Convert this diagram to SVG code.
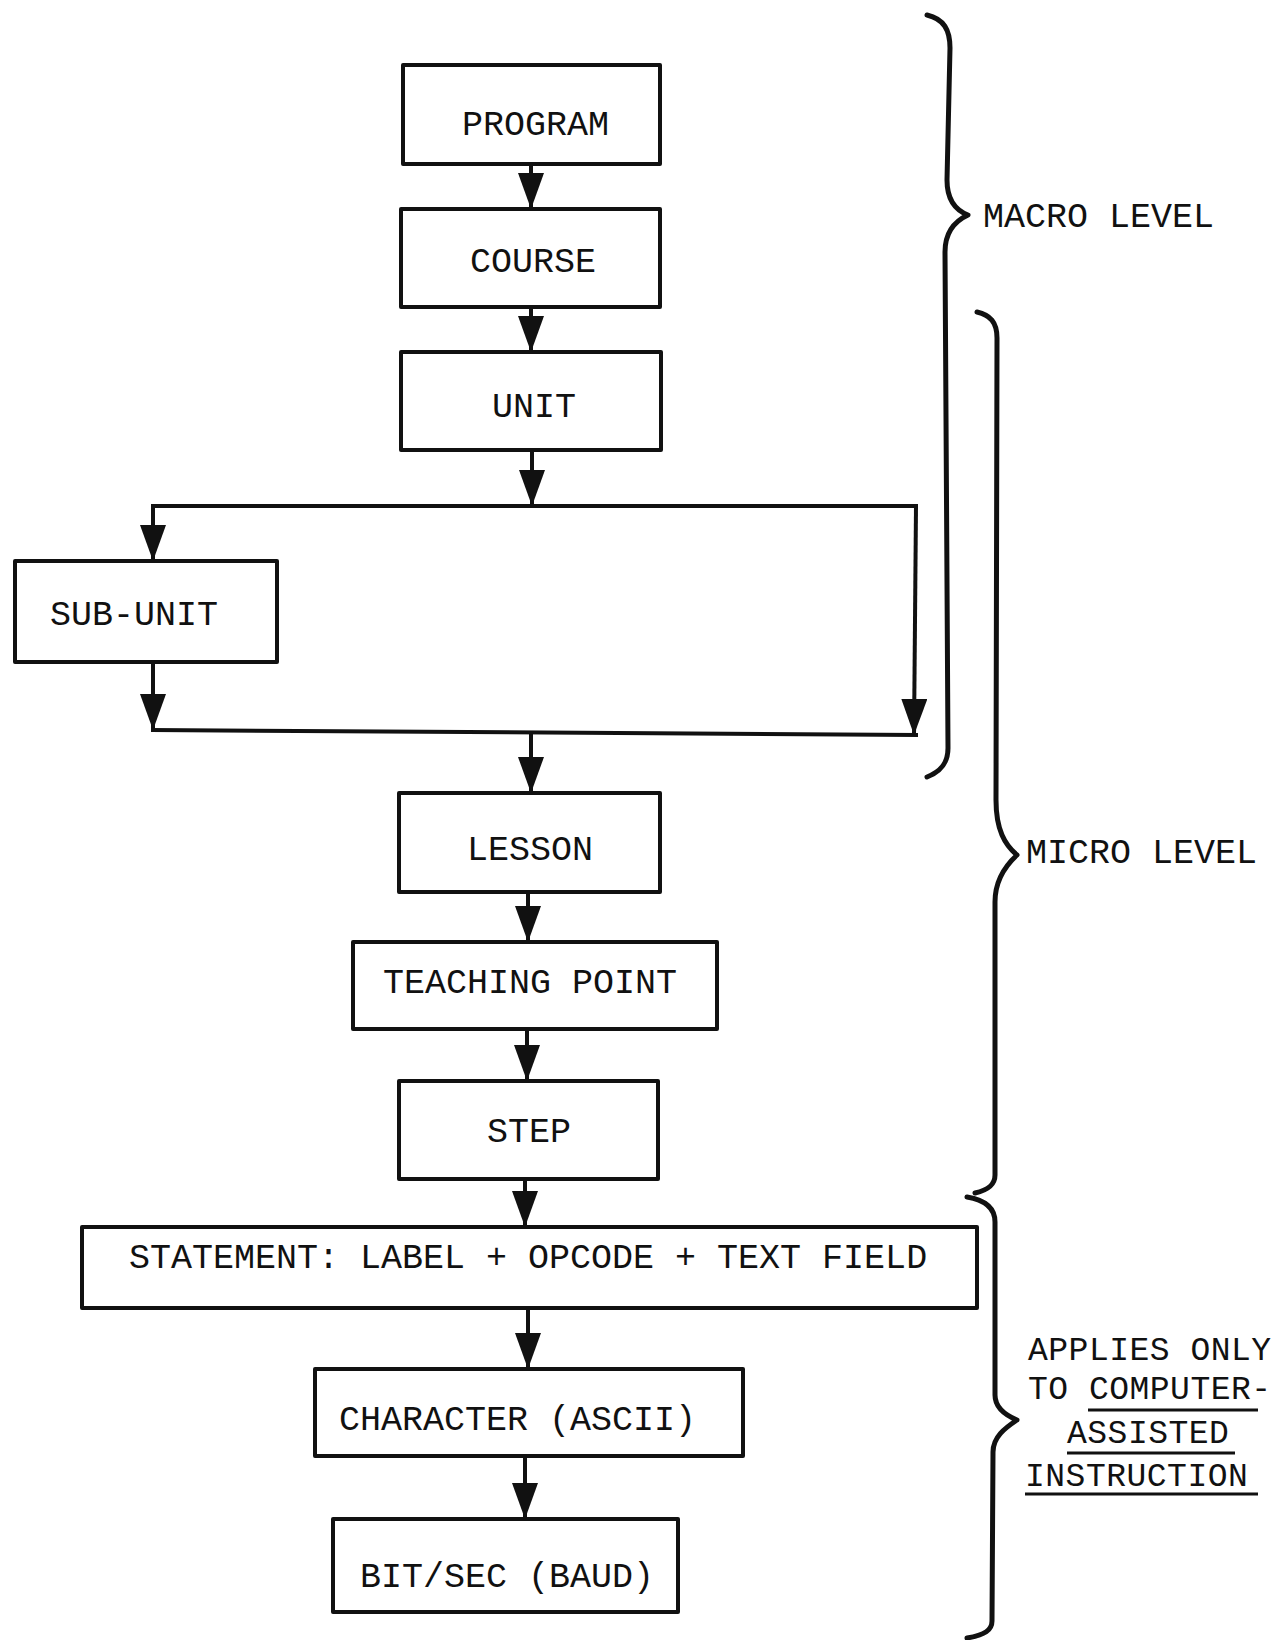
<svg xmlns="http://www.w3.org/2000/svg" width="1288" height="1640" viewBox="0 0 1288 1640">
<defs>
<marker id="ah" viewBox="0 0 36 26" refX="36" refY="13" markerWidth="36" markerHeight="26" markerUnits="userSpaceOnUse" orient="auto">
<path d="M0,0 L36,13 L0,26 z" fill="#111"/>
</marker>
</defs>
<style>
.box{fill:#fff;stroke:#111;stroke-width:4;stroke-linejoin:round}
.t{font-family:"Liberation Mono","DejaVu Sans Mono",monospace;font-size:35px;fill:#111}
.r{font-family:"Liberation Mono","DejaVu Sans Mono",monospace;font-size:33px;letter-spacing:0.5px;fill:#111}
.c{fill:none;stroke:#111;stroke-width:4}
.a{fill:none;stroke:#111;stroke-width:4;marker-end:url(#ah)}
.br{fill:none;stroke:#111;stroke-width:5;stroke-linecap:round;stroke-linejoin:round}
.u{stroke:#111;stroke-width:3}
</style>
<rect width="1288" height="1640" fill="#fff"/>
<g id="connectors">
<line class="a" x1="531" y1="164" x2="531" y2="209"/>
<line class="a" x1="531" y1="307" x2="531" y2="352"/>
<line class="a" x1="532" y1="450" x2="532" y2="506"/>
<line class="c" x1="151" y1="506" x2="918" y2="506"/>
<line class="a" x1="153" y1="506" x2="153" y2="561"/>
<line class="a" x1="153" y1="662" x2="153" y2="730"/>
<line class="c" x1="151" y1="730" x2="918" y2="735"/>
<line class="a" x1="916" y1="506" x2="914" y2="735"/>
<line class="a" x1="531" y1="733" x2="531" y2="793"/>
<line class="a" x1="528" y1="892" x2="528" y2="942"/>
<line class="a" x1="527" y1="1029" x2="527" y2="1081"/>
<line class="a" x1="525" y1="1179" x2="525" y2="1227"/>
<line class="a" x1="528" y1="1308" x2="528" y2="1369"/>
<line class="a" x1="525" y1="1456" x2="525" y2="1519"/>
</g>
<g id="program"><rect class="box" x="403" y="65" width="257" height="99"/><text class="t" x="462" y="135">PROGRAM</text></g>
<g id="course"><rect class="box" x="401" y="209" width="259" height="98"/><text class="t" x="470" y="272">COURSE</text></g>
<g id="unit"><rect class="box" x="401" y="352" width="260" height="98"/><text class="t" x="492" y="417">UNIT</text></g>
<g id="subunit"><rect class="box" x="15" y="561" width="262" height="101"/><text class="t" x="50" y="625">SUB-UNIT</text></g>
<g id="lesson"><rect class="box" x="399" y="793" width="261" height="99"/><text class="t" x="467" y="860">LESSON</text></g>
<g id="teaching-point"><rect class="box" x="353" y="942" width="364" height="87"/><text class="t" x="383" y="993">TEACHING POINT</text></g>
<g id="step"><rect class="box" x="399" y="1081" width="259" height="98"/><text class="t" x="487" y="1142">STEP</text></g>
<g id="statement"><rect class="box" x="82" y="1227" width="895" height="81"/><text class="t" x="129" y="1268">STATEMENT: LABEL + OPCODE + TEXT FIELD</text></g>
<g id="character"><rect class="box" x="315" y="1369" width="428" height="87"/><text class="t" x="339" y="1430">CHARACTER  (ASCII)</text></g>
<g id="bitsec"><rect class="box" x="333" y="1519" width="345" height="93"/><text class="t" x="360" y="1587">BIT/SEC (BAUD)</text></g>
<g id="macro-level">
<path class="br" d="M927,15 C944,19 950,30 950,48 L947,180 C947,200 955,210 968,215 C955,221 945,232 945,252 L948,748 C948,764 940,772 927,777"/>
<text class="t" x="983" y="227">MACRO LEVEL</text>
</g>
<g id="micro-level">
<path class="br" d="M977,312 C990,315 997,322 997,338 L996,800 C996,830 1005,845 1017,855 C1005,866 995,880 995,902 L995,1175 C995,1185 988,1190 975,1193"/>
<text class="t" x="1026" y="863">MICRO LEVEL</text>
</g>
<g id="cai-note">
<path class="br" d="M967,1197 C985,1200 995,1208 995,1222 L995,1395 C995,1408 1005,1415 1017,1420 C1005,1428 993,1437 993,1452 L992,1621 C992,1630 985,1635 967,1638"/>
<text class="r" x="1028" y="1360">APPLIES ONLY</text>
<text class="r" x="1028" y="1399">TO COMPUTER-</text>
<text class="r" x="1067" y="1443">ASSISTED</text>
<text class="r" x="1025" y="1486">INSTRUCTION</text>
<line class="u" x1="1088" y1="1410" x2="1258" y2="1410"/>
<line class="u" x1="1067" y1="1453" x2="1235" y2="1453"/>
<line class="u" x1="1025" y1="1494" x2="1258" y2="1494"/>
</g>
</svg>
